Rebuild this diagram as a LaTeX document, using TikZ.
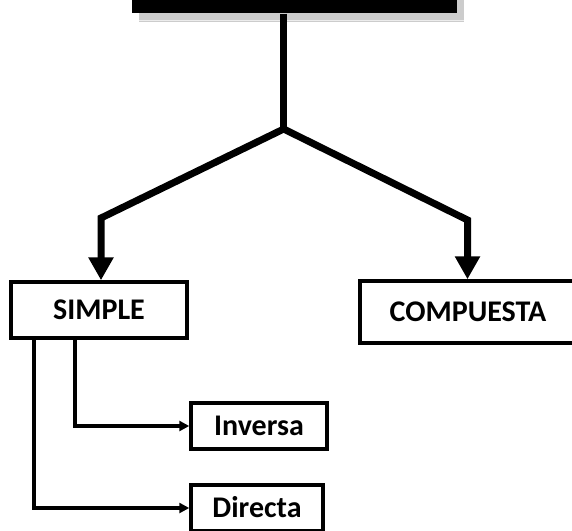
\documentclass[tikz,border=0pt]{standalone}
\usepackage{fontspec}
\setmainfont{Carlito}
\usetikzlibrary{arrows.meta}

\tikzset{
  box/.style={draw, line width=3.5pt, rectangle, inner sep=0pt,
    font=\fontsize{30}{32}\selectfont\bfseries, text height=19pt, text depth=0pt},
  trunk/.style={line width=7pt},
  bigtip/.style={trunk, -{Triangle[length=23pt,width=24pt]}},
  link/.style={line width=3.5pt, -{Triangle[length=10pt,width=10pt]}}
}

\begin{document}
\begin{tikzpicture}[x=1pt,y=1pt,yscale=-1,xscale=1]
				\useasboundingbox (0,0) rectangle (572,530);
				\clip (0,0) rectangle (572,530);
				
				%Shape: Rectangle [title, cut at the top]
				\node [fill=black, inner sep=0pt, minimum width=325pt, minimum height=34pt] (titlebox) at (294.5,-3.7) {};
				\fill [gray!40] ([shift={(7,8)}]titlebox.north west) rectangle ([shift={(7,8)}]titlebox.south east);
				\draw [gray!15, line width=1pt] ([shift={(7,6.5)}]titlebox.south west) -- ([shift={(7,6.5)}]titlebox.south east);
				\node [fill=black, inner sep=0pt, minimum width=325pt, minimum height=34pt] at (titlebox) {};
				
				% Text Node
				\node [box, minimum width=176pt, minimum height=56pt] (simple) at (99,310) {SIMPLE};
				\node [box, minimum width=216pt, minimum height=62pt] (compuesta) at (468,312) {COMPUESTA};
				\node [box, minimum width=136pt, minimum height=46pt] (inversa) at (259,426) {Inversa};
				\node [box, minimum width=132pt, minimum height=46pt] (directa) at (257,508) {Directa};
				
				%Straight Lines [trunk and fork]
				\coordinate (fork) at (283.7,129);
				\coordinate (elbowL) at (101,218);
				\coordinate (elbowR) at (467.5,220);
				\draw [trunk] (fork |- titlebox.south) -- (fork);
				\draw [bigtip] (fork) -- (elbowL) -- (elbowL |- simple.north);
				\draw [bigtip] (fork) -- (elbowR) -- (elbowR |- compuesta.north);
				
				%Straight Lines [from SIMPLE]
				\coordinate (dropA) at ([xshift=-24pt]simple.south);
				\coordinate (dropB) at ([xshift=-65pt]simple.south);
				\draw [link] (dropA) |- (inversa.west);
				\draw [link] (dropB) |- (directa.west);
				
\end{tikzpicture}
\end{document}
